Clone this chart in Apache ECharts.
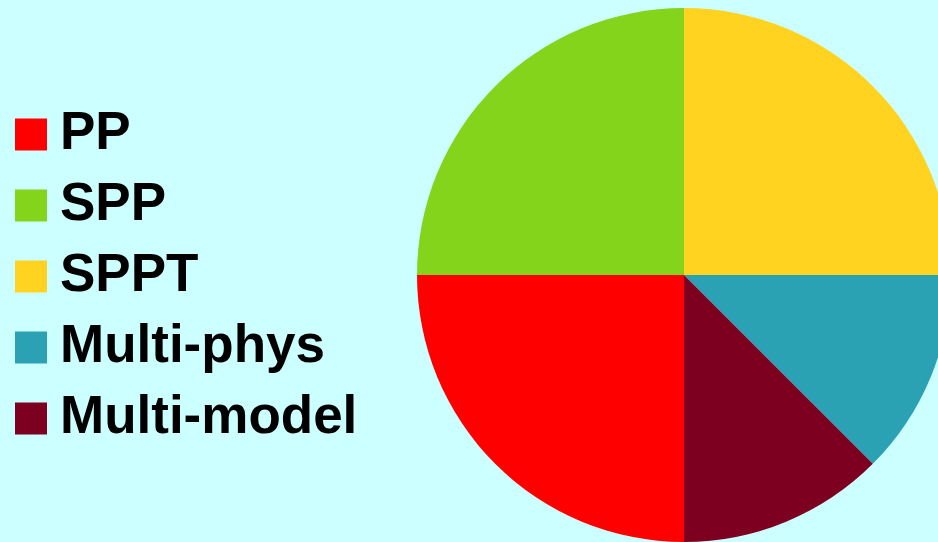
<!DOCTYPE html>
<html>
<head>
<meta charset="utf-8">
<script src="https://cdn.jsdelivr.net/npm/echarts@6/dist/echarts.min.js"></script>
<style>
  html, body { margin: 0; padding: 0; background: #ccffff; }
  #chart { width: 938px; height: 542px; }
</style>
</head>
<body>
<div id="chart"></div>
<script>
const categories = ['PP', 'SPP', 'SPPT', 'Multi-phys', 'Multi-model']
const values = [2, 2, 2, 1, 1]
const colors = ['#ff0000', '#84d41c', '#ffd320', '#2ba2b3', '#7e0021']

const chart = echarts.init(document.getElementById('chart'))
const option = {
  backgroundColor: '#ccffff',
  animation: false,
  legend: {
    orient: 'vertical',
    left: 15,
    top: 108,
    padding: 0,
    icon: 'rect',
    itemWidth: 32,
    itemHeight: 32,
    itemGap: 18,
    selectedMode: false,
    data: categories,
    textStyle: {
      fontFamily: 'Liberation Sans',
      fontWeight: 'bold',
      fontSize: 53,
      color: '#000',
      padding: [6, 0, 0, 8]
    }
  },
  series: [
    {
      type: 'pie',
      center: [684, 275],
      radius: 267,
      startAngle: 270,
      clockwise: true,
      label: { show: false },
      labelLine: { show: false },
      emphasis: { disabled: true },
      itemStyle: { borderWidth: 0 },
      data: categories.map((name, i) => ({
        name: name,
        value: values[i],
        itemStyle: { color: colors[i] }
      }))
    }
  ]
}
chart.setOption(option)
</script>
</body>
</html>
